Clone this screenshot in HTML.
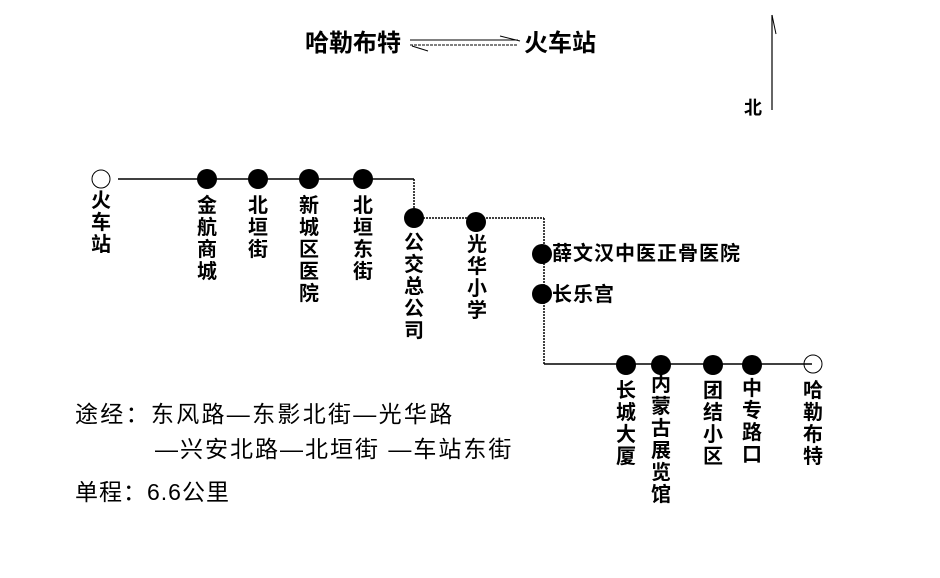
<!DOCTYPE html>
<html><head><meta charset="utf-8"><style>
body{margin:0;background:#fff;width:940px;height:578px;overflow:hidden;position:relative;font-family:"Liberation Sans","Noto Sans CJK SC",sans-serif;color:#000}
.t{position:absolute;font-size:20px;font-weight:bold;line-height:22px;white-space:nowrap}
.v{position:absolute;font-size:20px;font-weight:bold;line-height:22px;width:22px;text-align:center;word-break:break-all;white-space:normal}
.n{font-weight:normal}
</style></head><body>
<svg width="940" height="578" style="position:absolute;left:0;top:0">
<g stroke="#000" stroke-width="1.5" fill="none">
<line x1="118" y1="179" x2="414" y2="179"/>
<line x1="414" y1="179" x2="414" y2="218" stroke-dasharray="2 1"/>
<line x1="414" y1="218" x2="544" y2="218" stroke-dasharray="2 1"/>
<line x1="544" y1="218" x2="544" y2="364" stroke-dasharray="2 1"/>
<line x1="544" y1="364" x2="812" y2="364"/>
<circle cx="101" cy="179" r="9" stroke-width="1"/>
<circle cx="813" cy="364" r="9" stroke-width="1"/>
<line x1="410" y1="40" x2="518" y2="40" stroke-width="1"/>
<line x1="410" y1="45" x2="518" y2="45" stroke-width="1" stroke-dasharray="3 1"/>
<line x1="500" y1="36" x2="520" y2="41" stroke-width="1"/>
<line x1="412" y1="46" x2="428" y2="51" stroke-width="1"/>
<line x1="772" y1="15" x2="772" y2="110" stroke-width="1.2"/>
<line x1="772" y1="15" x2="776" y2="34" stroke-width="1"/>
</g>
<g fill="#000">
<circle cx="207" cy="179" r="10"/><circle cx="258" cy="179" r="10"/><circle cx="309" cy="179" r="10"/><circle cx="363" cy="179" r="10"/>
<circle cx="414" cy="218" r="10"/><circle cx="476" cy="222" r="10"/>
<circle cx="542" cy="254" r="10"/><circle cx="542" cy="294" r="10"/>
<circle cx="626" cy="365" r="10"/><circle cx="661" cy="365" r="10"/><circle cx="713" cy="365" r="10"/><circle cx="752" cy="365" r="10"/>
</g>
</svg>
<div class="t" style="left:305px;top:33px;font-size:24px">哈勒布特</div>
<div class="t" style="left:524px;top:33px;font-size:24px">火车站</div>
<div class="t" style="left:744px;top:97px;font-size:18px">北</div>
<div class="v" style="left:90px;top:190px">火车站</div>
<div class="v" style="left:196px;top:195px">金航商城</div>
<div class="v" style="left:247px;top:195px">北垣街</div>
<div class="v" style="left:298px;top:195px">新城区医院</div>
<div class="v" style="left:352px;top:195px">北垣东街</div>
<div class="v" style="left:403px;top:232px">公交总公司</div>
<div class="v" style="left:466px;top:234px">光华小学</div>
<div class="t" style="left:552px;top:243px;font-size:20px;letter-spacing:1px">薛文汉中医正骨医院</div>
<div class="t" style="left:552px;top:284px;font-size:20px;letter-spacing:1px">长乐宫</div>
<div class="v" style="left:615px;top:380px">长城大厦</div>
<div class="v" style="left:650px;top:374px">内蒙古展览馆</div>
<div class="v" style="left:702px;top:380px">团结小区</div>
<div class="v" style="left:741px;top:378px">中专路口</div>
<div class="v" style="left:802px;top:380px">哈勒布特</div>
<div class="t n" style="left:75px;top:401px;font-size:23px;letter-spacing:2.3px;line-height:26px">途经：东风路—东影北街—光华路</div>
<div class="t n" style="left:155px;top:436px;font-size:23px;letter-spacing:2px;line-height:26px">—兴安北路—北垣街 —车站东街</div>
<div class="t n" style="left:75px;top:479px;font-size:23px;letter-spacing:1px;line-height:26px">单程：6.6公里</div>
</body></html>
